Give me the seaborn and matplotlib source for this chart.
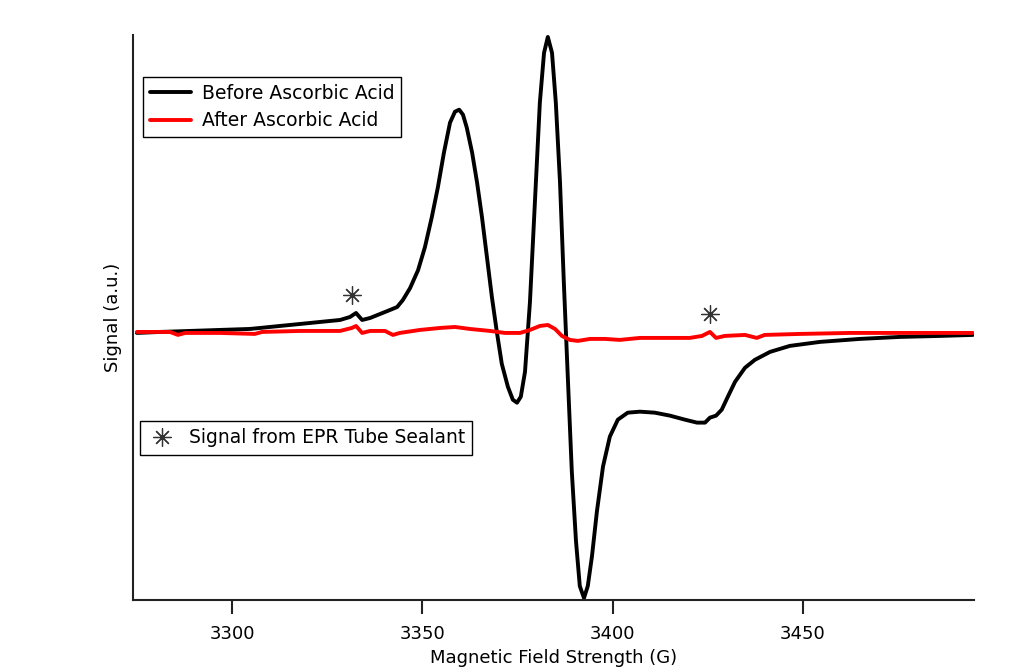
import numpy as np
import pandas as pd
import matplotlib
matplotlib.use("Agg")
import matplotlib.pyplot as plt
from matplotlib.lines import Line2D
import seaborn as sns

# EPR spectra (field in gauss, signal in arbitrary units)
field_before = [3275.0, 3281.1, 3289.0, 3296.8, 3304.7, 3307.4, 3312.6, 3317.9, 3323.1,
                3328.4, 3331.0, 3332.6, 3334.2, 3336.3, 3338.9, 3341.5, 3343.4, 3344.9,
                3346.8, 3348.9, 3350.7, 3352.5, 3354.1, 3355.7, 3357.3, 3358.6, 3359.7,
                3360.7, 3361.7, 3363.1, 3364.4, 3365.7, 3367.0, 3368.3, 3369.6, 3370.9,
                3372.5, 3373.8, 3374.9, 3375.9, 3377.0, 3378.3, 3379.6, 3380.9, 3382.0,
                3383.0, 3384.1, 3385.1, 3386.2, 3387.2, 3388.3, 3389.3, 3390.4, 3391.4,
                3392.5, 3393.5, 3394.6, 3395.9, 3397.5, 3399.3, 3401.4, 3404.0, 3407.2,
                3411.1, 3415.1, 3419.0, 3422.2, 3424.3, 3425.6, 3427.2, 3428.7, 3430.3,
                3432.2, 3434.8, 3437.4, 3441.4, 3446.6, 3454.5, 3465.0, 3475.5, 3486.0,
                3494.7]
signal_before = [-0.01, 0.00, 0.01, 0.02, 0.03, 0.04, 0.06, 0.08, 0.10,
                 0.12, 0.15, 0.19, 0.12, 0.14, 0.18, 0.22, 0.25, 0.32,
                 0.44, 0.62, 0.85, 1.15, 1.45, 1.80, 2.10, 2.21, 2.23,
                 2.18, 2.05, 1.80, 1.50, 1.15, 0.75, 0.35, 0.00, -0.32,
                 -0.55, -0.68, -0.71, -0.65, -0.40, 0.30, 1.30, 2.30, 2.80,
                 2.96, 2.80, 2.30, 1.50, 0.50, -0.50, -1.40, -2.10, -2.55,
                 -2.67, -2.55, -2.25, -1.80, -1.35, -1.05, -0.88, -0.81, -0.80,
                 -0.81, -0.84, -0.88, -0.91, -0.91, -0.86, -0.84, -0.78, -0.65,
                 -0.50, -0.36, -0.28, -0.20, -0.14, -0.10, -0.07, -0.05, -0.04,
                 -0.03]

field_after = [3275.0, 3283.7, 3285.8, 3287.7, 3296.8, 3306.0, 3307.9, 3317.9, 3328.4,
               3331.5, 3332.6, 3334.2, 3336.3, 3340.2, 3342.3, 3344.1, 3349.4, 3354.7,
               3358.6, 3362.5, 3367.8, 3371.7, 3375.7, 3378.3, 3380.9, 3383.0, 3384.9,
               3386.7, 3388.8, 3390.9, 3394.1, 3398.0, 3401.9, 3407.2, 3412.5, 3420.3,
               3423.5, 3425.6, 3427.2, 3429.5, 3434.8, 3437.9, 3440.0, 3449.2, 3462.4,
               3475.5, 3494.7]
signal_after = [0.00, 0.00, -0.03, -0.01, -0.01, -0.02, 0.00, 0.01, 0.01,
                0.04, 0.06, -0.01, 0.01, 0.01, -0.03, -0.01, 0.02, 0.04,
                0.05, 0.03, 0.01, -0.01, -0.01, 0.02, 0.06, 0.07, 0.03,
                -0.04, -0.08, -0.09, -0.07, -0.07, -0.08, -0.06, -0.06, -0.06,
                -0.04, 0.00, -0.06, -0.04, -0.03, -0.06, -0.03, -0.02, -0.01,
                -0.01, -0.01]

# sealant artefact positions
sealant_field = [3331.5, 3425.6]
sealant_signal = [0.37, 0.18]

series_names = ["Before Ascorbic Acid", "After Ascorbic Acid"]
series_colors = ["#000000", "#ff0000"]
x_ticks = [3300, 3350, 3400, 3450]

df = pd.concat([
    pd.DataFrame({"field": field_before, "signal": signal_before, "sample": series_names[0]}),
    pd.DataFrame({"field": field_after, "signal": signal_after, "sample": series_names[1]}),
])

sns.set_style("white")
plt.rcParams["font.family"] = ["DejaVu Sans"]
plt.rcParams["text.color"] = "black"
plt.rcParams["axes.labelcolor"] = "black"
plt.rcParams["xtick.color"] = "black"

fig = plt.figure(figsize=(10.14, 6.72), dpi=100)
ax = fig.add_axes([0.1312, 0.1071, 0.8294, 0.8409])

sns.lineplot(data=df, x="field", y="signal", hue="sample", hue_order=series_names,
             palette=series_colors, linewidth=2.8, sort=False, estimator=None,
             legend=False, ax=ax)

asterisk = (8, 2, 0)
ax.plot(sealant_field, sealant_signal, linestyle="none", marker=asterisk,
        markersize=13, markeredgewidth=0.9, color="#333333")

ax.set_xlim(3274, 3495)
ax.set_ylim(-2.69, 2.98)
ax.set_xticks(x_ticks)
ax.set_yticks([])
ax.tick_params(axis="x", bottom=True, direction="out", length=10, width=1.5,
               color="#222222", labelcolor="black", labelsize=13, pad=8)
for side in ["top", "right"]:
    ax.spines[side].set_visible(False)
for side in ["left", "bottom"]:
    ax.spines[side].set_color("#222222")
    ax.spines[side].set_linewidth(1.5)

ax.set_xlabel("Magnetic Field Strength (G)", fontsize=13, labelpad=4)
ax.set_ylabel("Signal (a.u.)", fontsize=13, labelpad=8)

line_handles = [Line2D([], [], color=c, linewidth=2.8) for c in series_colors]
leg1 = ax.legend(line_handles, series_names, loc="upper left",
                 bbox_to_anchor=(0.012, 0.925), frameon=True, fancybox=False,
                 edgecolor="black", framealpha=1, fontsize=13.5, handlelength=2.2,
                 borderpad=0.35, labelspacing=0.45, handletextpad=0.6, borderaxespad=0)
leg1.get_frame().set_linewidth(1.0)
ax.add_artist(leg1)

marker_handle = Line2D([], [], linestyle="none", marker=asterisk, markersize=13,
                       markeredgewidth=0.9, color="#333333")
leg2 = ax.legend([marker_handle], ["Signal from EPR Tube Sealant"], loc="upper left",
                 bbox_to_anchor=(0.008, 0.317), frameon=True, fancybox=False,
                 edgecolor="black", framealpha=1, fontsize=13.5, handlelength=1.6,
                 borderpad=0.4, handletextpad=0.6, borderaxespad=0)
leg2.get_frame().set_linewidth(1.0)

fig.savefig("out.png", dpi=100)
